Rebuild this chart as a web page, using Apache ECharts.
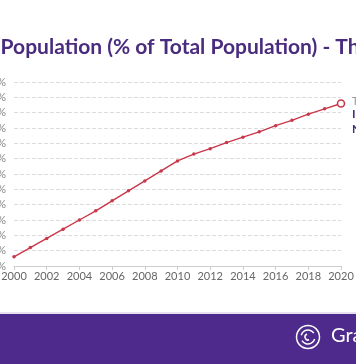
<!DOCTYPE html>
<html><head><meta charset="utf-8">
<script src="https://cdn.jsdelivr.net/npm/echarts@6/dist/echarts.min.js"></script>
<style>html,body{margin:0;padding:0;background:#fff}#c{width:356px;height:364px}</style>
</head><body><div id="c"></div>
<script>
const titleText = 'Urban Population (% of Total Population) - Thailand';
const years = ['2000','2001','2002','2003','2004','2005','2006','2007','2008','2009','2010','2011','2012','2013','2014','2015','2016','2017','2018','2019','2020'];
const urbanShare = [31.2,32.4,33.6,34.8,36.0,37.2,38.5,39.8,41.1,42.4,43.7,44.6,45.3,46.1,46.8,47.5,48.3,49.0,49.8,50.5,51.2];
const yTickFormat = v => v + '%';
const noteLines = ['Thailand', 'In 2020', 'Now 51.4%'];
const brandText = 'GraphicMaps';

const chart = echarts.init(document.getElementById('c'), null, {renderer:'canvas'});
const lastIdx = urbanShare.length - 1;
chart.setOption({
  animation:false,
  backgroundColor:'#ffffff',
  title:{text:titleText,left:-67,top:32,textStyle:{fontFamily:'Lato',fontWeight:'bold',fontSize:21,color:'#4a2c7f'}},
  grid:{left:14,right:15,top:82,bottom:98,containLabel:false,outerBoundsMode:'none'},
  xAxis:{type:'category',data:years,boundaryGap:false,
    axisLine:{lineStyle:{color:'#cccccc'}},
    axisTick:{show:true,interval:1,length:4,lineStyle:{color:'#cccccc'}},
    axisLabel:{interval:1,color:'#666666',fontFamily:'Lato',fontSize:11,margin:5}},
  yAxis:{type:'value',min:30,max:54,interval:2,
    axisLine:{show:false},axisTick:{show:false},
    axisLabel:{formatter:yTickFormat,color:'#888888',fontFamily:'Lato',fontSize:11,margin:8},
    splitLine:{lineStyle:{color:'#dddddd',type:'dashed'}}},
  series:[{type:'line',data:urbanShare.map((v,i)=> i===lastIdx ? {value:v,symbol:'circle',symbolSize:7,itemStyle:{color:'#ffffff',borderColor:'#c8374a',borderWidth:1.6}} : v),
    symbol:'circle',symbolSize:3.5,
    lineStyle:{color:'#c8374a',width:1.4},itemStyle:{color:'#c8374a'}}],
  graphic:[
    {type:'text',left:352,top:96,style:{text:noteLines[0],fill:'#999999',font:'11px Lato'}},
    {type:'text',left:352,top:108,style:{text:noteLines[1],fill:'#4a2c7f',font:'bold 12px Lato'}},
    {type:'text',left:352,top:123,style:{text:noteLines[2],fill:'#4a2c7f',font:'bold 12px Lato'}},
    {type:'rect',shape:{x:0,y:314,width:356,height:50},style:{fill:'#4d2a8c'}},
    {type:'rect',shape:{x:0,y:312,width:356,height:2},style:{fill:'#e6e0f0'}},
    {type:'circle',shape:{cx:308,cy:337,r:11.5},style:{fill:'none',stroke:'#ffffff',lineWidth:1.5}},
    {type:'arc',shape:{cx:308,cy:337,r:7,startAngle:0.3,endAngle:2.6},style:{fill:'none',stroke:'#ffffff',lineWidth:1.5}},
    {type:'arc',shape:{cx:308,cy:337,r:7,startAngle:3.4,endAngle:5.7},style:{fill:'none',stroke:'#ffffff',lineWidth:1.5}},
    {type:'arc',shape:{cx:308,cy:337,r:3,startAngle:1.2,endAngle:4.4},style:{fill:'none',stroke:'#ffffff',lineWidth:1.5}},
    {type:'text',left:331,top:326,style:{text:brandText,fill:'#ffffff',font:'20px Lato'}}
  ]
});
</script></body></html>
